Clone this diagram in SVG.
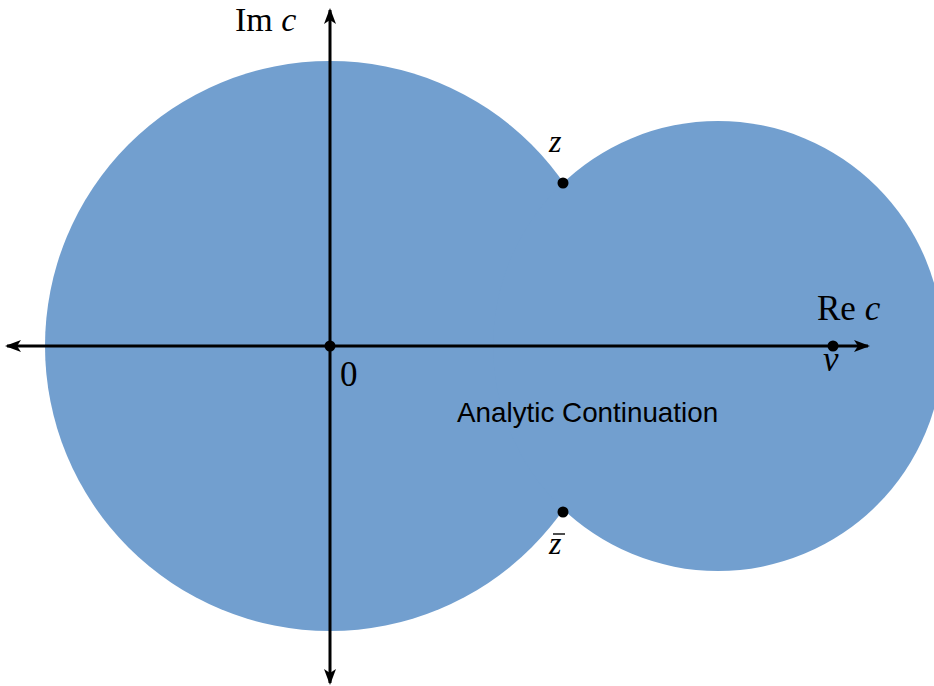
<svg xmlns="http://www.w3.org/2000/svg" width="934" height="686" viewBox="0 0 934 686">
<style>
.region{fill:#729fcf;stroke:none}
.axis{stroke:#000;stroke-width:3;fill:none}
.dot{fill:#000}
.serif{font-family:"Liberation Serif","DejaVu Serif",serif;font-size:35px;fill:#000}
.it{font-style:italic}
.pt{font-size:32px}
.top{font-size:34px}
.sans{font-family:"Liberation Sans",Arial,sans-serif;font-size:27.8px;fill:#000}
</style>
<defs>
<marker id="arr" viewBox="0 0 16 12" refX="14" refY="6" markerWidth="16" markerHeight="12" markerUnits="userSpaceOnUse" orient="auto">
<path d="M0,0 L16,6 L0,12 L4,6 Z" fill="#000"/>
</marker>
</defs>
<g id="region">
<circle class="region" cx="330" cy="346" r="285"/>
<circle class="region" cx="718" cy="346" r="225"/>
</g>
<g id="connectors">
<line class="axis" x1="20" y1="346" x2="7" y2="346" marker-end="url(#arr)"/>
<line class="axis" x1="20" y1="346" x2="868" y2="346" marker-end="url(#arr)"/>
<line class="axis" x1="330" y1="30" x2="330" y2="10" marker-end="url(#arr)"/>
<line class="axis" x1="330" y1="30" x2="330" y2="683" marker-end="url(#arr)"/>
</g>
<g id="points">
<circle class="dot" cx="330" cy="346" r="5.5"/>
<circle class="dot" cx="833" cy="346" r="5.5"/>
<circle class="dot" cx="563" cy="183" r="5.5"/>
<circle class="dot" cx="563" cy="512" r="5.5"/>
</g>
<g id="labels">
<text class="serif top" x="235" y="31">Im <tspan class="it">c</tspan></text>
<text class="serif" x="817" y="320">Re <tspan class="it">c</tspan></text>
<text class="serif" x="340" y="386">0</text>
<text class="serif it" x="823" y="371">v</text>
<text class="serif it pt" x="549" y="152">z</text>
<text class="serif it pt" x="549" y="554">z</text>
<line x1="553" y1="534" x2="565" y2="534" stroke="#000" stroke-width="1.4"/>
<text class="sans" x="457" y="422">Analytic Continuation</text>
</g>
</svg>
